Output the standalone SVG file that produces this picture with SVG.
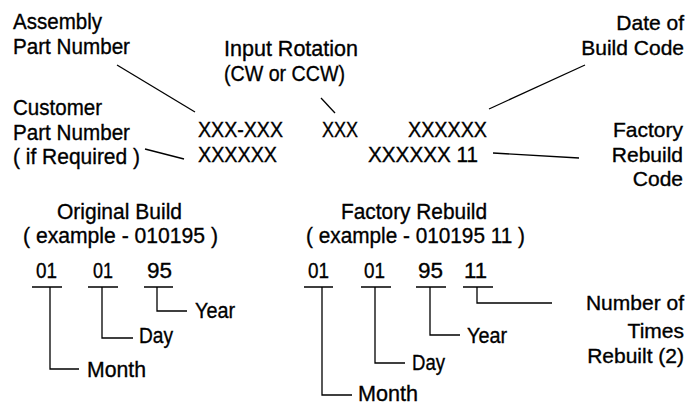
<svg xmlns="http://www.w3.org/2000/svg" width="689" height="407" viewBox="0 0 689 407">
<style>
text{font-family:"Liberation Sans",Arial,sans-serif;font-size:22.5px;fill:#000;stroke:#000;stroke-width:0.35}
.r{text-anchor:end;font-size:21px}
.c{fill:none;stroke:#000;stroke-width:1.3}
</style>
<rect width="689" height="407" fill="#fff"/>
<g id="connectors" class="c">
<path d="M117,65 L195,112"/>
<path d="M145,149 L184,159"/>
<path d="M321,98 L335,113"/>
<path d="M489,109 L585,65"/>
<path d="M493,153 L579,158"/>
<path d="M32,287 H62 M88,287 H118 M144,287 H173"/>
<path d="M50,287 V369 H79"/>
<path d="M102,287 V338 H133"/>
<path d="M157,287 V311 H187"/>
<path d="M304,287 H333 M361,287 H391 M416,287 H446 M463,287 H493"/>
<path d="M322,287 V395 H352"/>
<path d="M375,287 V363 H405"/>
<path d="M430,287 V335 H460"/>
<path d="M477,287 V303 H552"/>
</g>
<g id="assembly-label"><text x="13" y="29" textLength="89" lengthAdjust="spacingAndGlyphs">Assembly</text><text x="13" y="54" textLength="117" lengthAdjust="spacingAndGlyphs">Part Number</text></g>
<g id="rotation-label"><text x="224" y="56" textLength="134" lengthAdjust="spacingAndGlyphs">Input Rotation</text><text x="224" y="81" textLength="121" lengthAdjust="spacingAndGlyphs">(CW or CCW)</text></g>
<g id="customer-label"><text x="13" y="115" textLength="89" lengthAdjust="spacingAndGlyphs">Customer</text><text x="13" y="140" textLength="117" lengthAdjust="spacingAndGlyphs">Part Number</text><text x="13" y="164" textLength="127" lengthAdjust="spacingAndGlyphs">( if Required )</text></g>
<g id="code-row1"><text x="198" y="137" textLength="85" lengthAdjust="spacingAndGlyphs">XXX-XXX</text><text x="322" y="137" textLength="36" lengthAdjust="spacingAndGlyphs">XXX</text><text x="408" y="137" textLength="79" lengthAdjust="spacingAndGlyphs">XXXXXX</text></g>
<g id="code-row2"><text x="198" y="162" textLength="79" lengthAdjust="spacingAndGlyphs">XXXXXX</text><text x="368" y="162" textLength="110" lengthAdjust="spacingAndGlyphs">XXXXXX 11</text></g>
<g id="date-label"><text class="r" x="684" y="30">Date of</text><text class="r" x="684" y="55">Build Code</text></g>
<g id="rebuild-label"><text class="r" x="683" y="137">Factory</text><text class="r" x="683" y="162">Rebuild</text><text class="r" x="683" y="186">Code</text></g>
<g id="original-build"><text x="57" y="219" textLength="125" lengthAdjust="spacingAndGlyphs">Original Build</text><text x="23" y="243" textLength="195" lengthAdjust="spacingAndGlyphs">( example - 010195 )</text>
<text x="36" y="278" textLength="21" lengthAdjust="spacingAndGlyphs">01</text><text x="93" y="278" textLength="20" lengthAdjust="spacingAndGlyphs">01</text><text x="147" y="278" textLength="25" lengthAdjust="spacingAndGlyphs">95</text>
<text x="195" y="318" textLength="40" lengthAdjust="spacingAndGlyphs">Year</text><text x="139" y="343" textLength="34" lengthAdjust="spacingAndGlyphs">Day</text><text x="87" y="377" textLength="59" lengthAdjust="spacingAndGlyphs">Month</text></g>
<g id="factory-rebuild"><text x="341" y="219" textLength="146" lengthAdjust="spacingAndGlyphs">Factory Rebuild</text><text x="306" y="243" textLength="219" lengthAdjust="spacingAndGlyphs">( example - 010195 11 )</text>
<text x="308" y="278" textLength="21" lengthAdjust="spacingAndGlyphs">01</text><text x="364" y="278" textLength="21" lengthAdjust="spacingAndGlyphs">01</text><text x="418" y="278" textLength="25" lengthAdjust="spacingAndGlyphs">95</text><text x="464" y="278" textLength="23" lengthAdjust="spacingAndGlyphs">11</text>
<text x="467" y="343" textLength="40" lengthAdjust="spacingAndGlyphs">Year</text><text x="412" y="370" textLength="33" lengthAdjust="spacingAndGlyphs">Day</text><text x="358" y="401" textLength="60" lengthAdjust="spacingAndGlyphs">Month</text></g>
<g id="times-label"><text class="r" x="684" y="310">Number of</text><text class="r" x="684" y="338">Times</text><text class="r" x="684" y="363">Rebuilt (2)</text></g>
</svg>
